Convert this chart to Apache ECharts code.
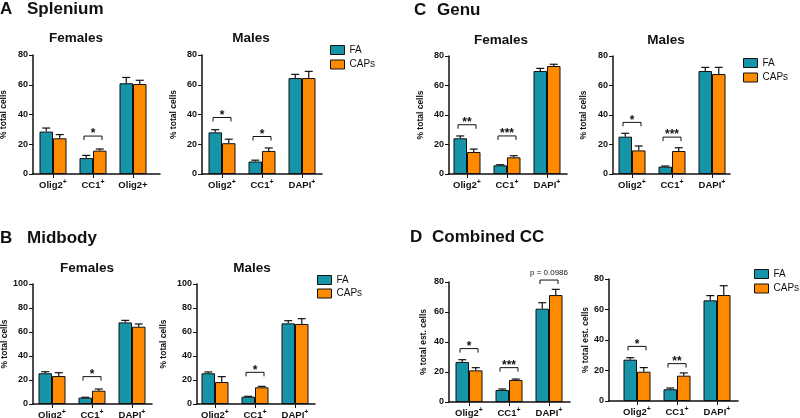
<!DOCTYPE html>
<html>
<head>
<meta charset="utf-8">
<script src="https://cdn.jsdelivr.net/npm/echarts@6/dist/echarts.min.js"></script>
<style>
  html, body { margin: 0; padding: 0; background: #fff; }
  #chart { width: 800px; height: 418px; }
</style>
</head>
<body>
<div id="chart"></div>
<script>
// tick labels ('^+' = superscript plus)
let labelsSpleniumF = ['Olig2^+', 'CC1^+', 'Olig2+'];
let labelsDAPI = ['Olig2^+', 'CC1^+', 'DAPI^+'];

// A Splenium
let splFemFA = [28.5, 10.7, 61.0];
let splFemFAsem = [2.4, 1.8, 3.9];
let splFemCAPs = [24.0, 15.7, 60.5];
let splFemCAPsSem = [2.5, 1.1, 2.5];
let splFemSig = [[1, 25.5, '*']];

let splMalFA = [28.0, 8.4, 64.5];
let splMalFAsem = [1.8, 0.9, 2.5];
let splMalCAPs = [20.7, 15.5, 64.5];
let splMalCAPsSem = [2.7, 2.0, 4.5];
let splMalSig = [[0, 38, '*'], [1, 25.2, '*']];

// B Midbody
let midFemFA = [25.6, 5.3, 68.0];
let midFemFAsem = [1.3, 0.3, 1.7];
let midFemCAPs = [23.3, 11.1, 64.4];
let midFemCAPsSem = [2.8, 1.4, 2.3];
let midFemSig = [[1, 22.8, '*']];

let midMalFA = [25.6, 6.1, 67.2];
let midMalFAsem = [1.1, 0.3, 2.2];
let midMalCAPs = [18.3, 13.9, 66.7];
let midMalCAPsSem = [4.5, 0.8, 4.4];
let midMalSig = [[1, 26.4, '*']];

// C Genu
let genFemFA = [24.2, 5.9, 69.8];
let genFemFAsem = [1.6, 0.4, 1.8];
let genFemCAPs = [14.9, 11.3, 73.2];
let genFemCAPsSem = [2.0, 1.1, 1.2];
let genFemSig = [[0, 33.4, '**'], [1, 25.8, '***']];

let genMalFA = [25.3, 5.0, 69.8];
let genMalFAsem = [2.3, 0.4, 2.5];
let genMalCAPs = [16.0, 15.6, 67.8];
let genMalCAPsSem = [3.0, 2.2, 4.5];
let genMalSig = [[0, 35, '*'], [1, 25, '***']];

// D Combined CC
let comFemFA = [26.7, 8.0, 62.2];
let comFemFAsem = [1.5, 0.7, 4.0];
let comFemCAPs = [21.1, 14.7, 71.3];
let comFemCAPsSem = [1.8, 0.6, 3.8];
let comFemSig = [[0, 35.6, '*'], [1, 22.9, '***'], [2, 81.3, 'p = 0.0986']];

let comMalFA = [27.1, 7.7, 66.0];
let comMalFAsem = [1.3, 0.8, 3.1];
let comMalCAPs = [19.2, 16.6, 69.5];
let comMalCAPsSem = [2.7, 1.8, 6.1];
let comMalSig = [[0, 35.8, '*'], [1, 24.5, '**']];

let yTicks80 = 80, yTicks100 = 100;

let FONT = '"Liberation Sans", Arial, Helvetica, sans-serif';
let TEAL = '#1694a8', ORANGE = '#ff8a00', INK = '#111';
let BAR_W = 13.5;

let panels = [
  {labels: labelsSpleniumF, fa: splFemFA, faSem: splFemFAsem, caps: splFemCAPs, capsSem: splFemCAPsSem, sig: splFemSig, yMax: yTicks80, yName: '% total cells'},
  {labels: labelsDAPI, fa: splMalFA, faSem: splMalFAsem, caps: splMalCAPs, capsSem: splMalCAPsSem, sig: splMalSig, yMax: yTicks80, yName: '% total cells'},
  {labels: labelsDAPI, fa: midFemFA, faSem: midFemFAsem, caps: midFemCAPs, capsSem: midFemCAPsSem, sig: midFemSig, yMax: yTicks100, yName: '% total cells'},
  {labels: labelsDAPI, fa: midMalFA, faSem: midMalFAsem, caps: midMalCAPs, capsSem: midMalCAPsSem, sig: midMalSig, yMax: yTicks100, yName: '% total cells'},
  {labels: labelsDAPI, fa: genFemFA, faSem: genFemFAsem, caps: genFemCAPs, capsSem: genFemCAPsSem, sig: genFemSig, yMax: yTicks80, yName: '% total cells'},
  {labels: labelsDAPI, fa: genMalFA, faSem: genMalFAsem, caps: genMalCAPs, capsSem: genMalCAPsSem, sig: genMalSig, yMax: yTicks80, yName: '% total cells'},
  {labels: labelsDAPI, fa: comFemFA, faSem: comFemFAsem, caps: comFemCAPs, capsSem: comFemCAPsSem, sig: comFemSig, yMax: yTicks80, yName: '% total est. cells'},
  {labels: labelsDAPI, fa: comMalFA, faSem: comMalFAsem, caps: comMalCAPs, capsSem: comMalCAPsSem, sig: comMalSig, yMax: yTicks80, yName: '% total est. cells'}
];

// pixel layout of each small chart: y axis x, x axis end, top, bottom, first group centre, name gap
let layout = [
  {ax: 33, end: 160, top: 55, bottom: 174, c1: 53, gap: 25},
  {ax: 202, end: 322, top: 55, bottom: 174, c1: 222, gap: 24},
  {ax: 33, end: 152, top: 284, bottom: 404, c1: 52, gap: 21},
  {ax: 197, end: 315, top: 284, bottom: 404, c1: 215, gap: 29},
  {ax: 449, end: 567, top: 56, bottom: 174, c1: 467, gap: 24},
  {ax: 613, end: 730, top: 56, bottom: 174, c1: 632, gap: 25},
  {ax: 449, end: 570, top: 282, bottom: 402, c1: 469, gap: 21},
  {ax: 609, end: 738, top: 279, bottom: 401, c1: 637, gap: 15}
];
let STEP = 40; // px between groups

function fmtLabel(s) {
  if (s.indexOf('^+') >= 0) return '{b|' + s.replace('^+', '') + '}{s|+}';
  return '{b|' + s + '}';
}

function errRender(dx) {
  return function (params, api) {
    let x = api.value(0), m = api.value(1), e = api.value(2);
    let p0 = api.coord([x, m]), p1 = api.coord([x, m + e]);
    let cx = p0[0] + dx;
    let st = {stroke: INK, lineWidth: 1.2};
    return {type: 'group', children: [
      {type: 'line', shape: {x1: cx, y1: p0[1], x2: cx, y2: p1[1]}, style: st},
      {type: 'line', shape: {x1: cx - 4, y1: p1[1], x2: cx + 4, y2: p1[1]}, style: st}
    ]};
  };
}

function sigRender(sig) {
  return function (params, api) {
    let p = api.coord([api.value(0), api.value(1)]);
    let lab = sig[params.dataIndex][2];
    let isP = lab.charAt(0) === 'p';
    let l = p[0] - 9, r = p[0] + 9, y = p[1];
    return {type: 'group', children: [
      {type: 'polyline', shape: {points: [[l, y + 4], [l, y], [r, y], [r, y + 4]]},
        style: {stroke: INK, lineWidth: 1, fill: null}},
      {type: 'text', x: p[0], y: isP ? y - 3 : y - 2,
        style: {text: lab, fill: INK, align: 'center', verticalAlign: isP ? 'bottom' : 'middle',
          textAlign: 'center', textVerticalAlign: isP ? 'bottom' : 'middle',
          font: (isP ? 'normal 8px ' : 'bold 12px ') + FONT}}
    ]};
  };
}

let grid = [], xAxis = [], yAxis = [], series = [];

panels.forEach(function (pn, i) {
  let L = layout[i];
  grid.push({left: L.ax, top: L.top, width: L.end - L.ax, height: L.bottom - L.top,
    containLabel: false, outerBoundsMode: 'none'});
  xAxis.push({
    type: 'value', gridIndex: i,
    min: (L.ax - L.c1) / STEP, max: (L.end - L.c1) / STEP,
    splitLine: {show: false},
    axisLine: {onZero: false, lineStyle: {color: INK, width: 1.5}},
    axisTick: {length: 4, customValues: [0, 1, 2], lineStyle: {color: INK, width: 1}},
    axisLabel: {
      customValues: [0, 1, 2], margin: 5,
      formatter: function (v) { return fmtLabel(pn.labels[Math.round(v)]); },
      rich: {
        b: {fontFamily: FONT, fontWeight: 'bold', fontSize: 9.5, color: INK, lineHeight: 12},
        s: {fontFamily: FONT, fontWeight: 'bold', fontSize: 7, color: INK, verticalAlign: 'top', lineHeight: 6}
      }
    }
  });
  yAxis.push({
    type: 'value', gridIndex: i, min: 0, max: pn.yMax, interval: 20,
    name: pn.yName, nameLocation: 'middle', nameRotate: 90, nameGap: L.gap,
    nameTextStyle: {fontFamily: FONT, fontWeight: 'bold', fontSize: 8.5, color: INK},
    splitLine: {show: false},
    axisLine: {show: true, onZero: false, lineStyle: {color: INK, width: 1.5}},
    axisTick: {show: true, length: 4, lineStyle: {color: INK, width: 1}},
    axisLabel: {margin: 5, fontFamily: FONT, fontWeight: 'bold', fontSize: 9, color: INK}
  });
  let mk = function (name, vals, color) {
    return {
      type: 'bar', name: name, xAxisIndex: i, yAxisIndex: i,
      data: vals.map(function (v, j) { return [j, v]; }),
      barWidth: BAR_W, barGap: '0%',
      itemStyle: {color: color, borderColor: INK, borderWidth: 1},
      emphasis: {disabled: true}, animation: false
    };
  };
  series.push(mk('FA', pn.fa, TEAL));
  series.push(mk('CAPs', pn.caps, ORANGE));
  series.push({type: 'custom', xAxisIndex: i, yAxisIndex: i, renderItem: errRender(-BAR_W / 2),
    data: pn.fa.map(function (v, j) { return [j, v, pn.faSem[j]]; }), z: 5, clip: false, animation: false});
  series.push({type: 'custom', xAxisIndex: i, yAxisIndex: i, renderItem: errRender(BAR_W / 2),
    data: pn.caps.map(function (v, j) { return [j, v, pn.capsSem[j]]; }), z: 5, clip: false, animation: false});
  series.push({type: 'custom', xAxisIndex: i, yAxisIndex: i, renderItem: sigRender(pn.sig),
    data: pn.sig.map(function (s) { return [s[0], s[1]]; }), z: 5, clip: false, animation: false});
});

function legendAt(left, top, gap) {
  return {
    data: ['FA', 'CAPs'], orient: 'vertical', left: left, top: top, padding: 0,
    itemWidth: 14, itemHeight: 9, itemGap: gap, icon: 'rect', selectedMode: false,
    itemStyle: {borderColor: INK, borderWidth: 1},
    textStyle: {fontFamily: FONT, fontSize: 10, color: INK}
  };
}

function txt(x, y, text, size, align) {
  return {type: 'text', x: x, y: y, style: {text: text, fill: INK,
    font: 'bold ' + size + 'px ' + FONT, align: align || 'left', textAlign: align || 'left',
    verticalAlign: 'middle', textVerticalAlign: 'middle'}};
}

let graphic = [
  txt(0, 9, 'A', 17), txt(27, 9, 'Splenium', 17),
  txt(0, 238, 'B', 17), txt(27, 238, 'Midbody', 17),
  txt(414, 10, 'C', 17), txt(437, 10, 'Genu', 17),
  txt(410, 237, 'D', 17), txt(432, 237, 'Combined CC', 17),
  txt(76, 38, 'Females', 13.5, 'center'), txt(251, 38, 'Males', 13.5, 'center'),
  txt(87, 268, 'Females', 13.5, 'center'), txt(252, 268, 'Males', 13.5, 'center'),
  txt(501, 40, 'Females', 13.5, 'center'), txt(666, 40, 'Males', 13.5, 'center')
];

let chart = echarts.init(document.getElementById('chart'), null, {renderer: 'canvas'});
chart.setOption({
  animation: false,
  backgroundColor: '#fff',
  grid: grid, xAxis: xAxis, yAxis: yAxis, series: series,
  legend: [legendAt(330, 45, 4.5), legendAt(317, 275, 3.5), legendAt(743, 58, 4.5), legendAt(754, 269, 4.5)],
  graphic: graphic
});
</script>
</body>
</html>
